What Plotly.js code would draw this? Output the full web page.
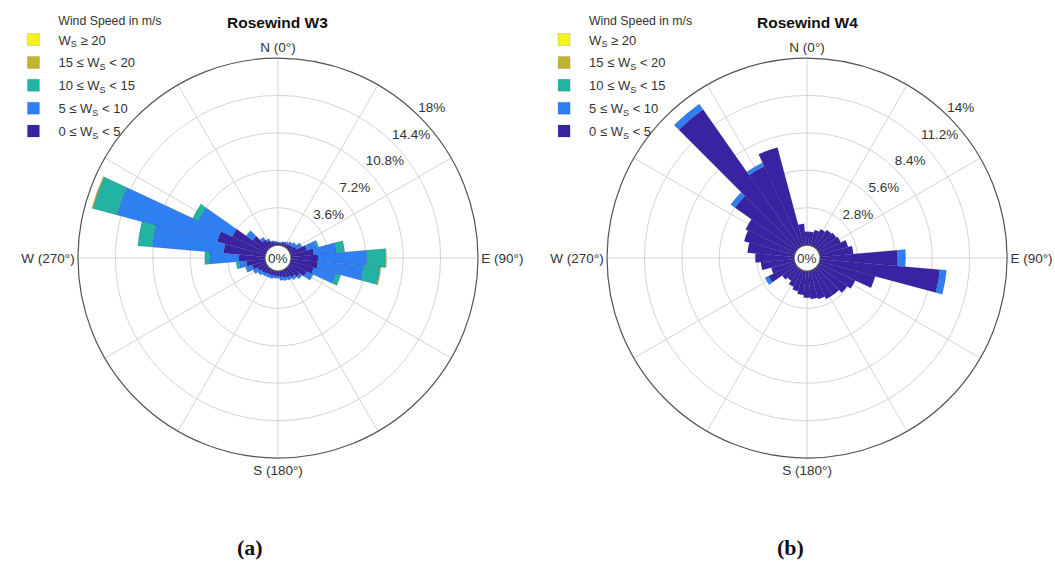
<!DOCTYPE html>
<html><head><meta charset="utf-8">
<script src="https://cdn.plot.ly/plotly-3.0.1.min.js"></script>
<style>html,body{margin:0;padding:0;background:#fff}#chart{width:1055px;height:569px}</style>
</head><body><div id="chart"></div>
<script>
// Direction sectors (degrees, compass)
const directions = [0,10,20,30,40,50,60,70,80,90,100,110,120,130,140,150,160,170,180,190,200,210,220,230,240,250,260,270,280,290,300,310,320,330,340,350];

// Speed classes (legend labels), from lowest to highest
const speedLabels = [
  '0 \u2264 W<sub>S</sub> &lt; 5',
  '5 \u2264 W<sub>S</sub> &lt; 10',
  '10 \u2264 W<sub>S</sub> &lt; 15',
  '15 \u2264 W<sub>S</sub> &lt; 20',
  'W<sub>S</sub> \u2265 20'
];
const speedColors = ['#3a23a2', '#2f7ff3', '#22b3a3', '#c2b42c', '#f6f31c'];

// Rosewind W3 frequencies (%) per direction, per speed class
const w3_0_5   = [0.2,0.2,0.3,0.3,0.4,0.5,0.7,1.6,2.2,2.6,2.6,2.3,1.8,1.3,1.0,0.8,0.7,0.6,0.5,0.5,0.5,0.5,0.6,0.7,0.9,1.3,1.8,2.5,4.0,4.8,3.6,1.7,0.9,0.6,0.4,0.3];
const w3_5_10  = [0.1,0.1,0.1,0.2,0.3,0.4,0.5,1.0,2.2,4.7,4.4,2.2,0.6,0.3,0.3,0.3,0.3,0.3,0.2,0.2,0.3,0.3,0.3,0.4,0.5,0.6,0.7,2.8,6.9,10.0,3.6,0.7,0.3,0.2,0.1,0.1];
const w3_10_15 = [0,0,0,0,0,0,0.1,0.2,0.8,1.8,1.6,0.5,0.1,0,0,0,0,0,0,0,0,0,0,0,0,0.1,0.3,0.5,1.4,2.4,0.6,0.1,0,0,0,0];
const w3_15_20 = [0,0,0,0,0,0,0,0,0,0.1,0.1,0,0,0,0,0,0,0,0,0,0,0,0,0,0,0,0,0,0,0.1,0,0,0,0,0,0];
const w3_20    = [0,0,0,0,0,0,0,0,0,0,0,0,0,0,0,0,0,0,0,0,0,0,0,0,0,0,0,0,0,0,0,0,0,0,0,0];

// Rosewind W4 frequencies (%) per direction, per speed class
const w4_0_5   = [1.0,1.0,1.2,1.4,1.6,1.7,1.8,2.2,2.5,5.8,9.0,4.3,3.0,2.7,2.4,2.4,2.2,2.1,2.0,1.8,1.6,1.4,1.1,1.3,2.2,1.8,2.5,2.9,3.5,3.9,4.1,5.6,12.6,6.6,7.6,1.6];
const w4_5_10  = [0,0,0,0,0,0,0,0,0,0.6,0.5,0,0,0,0,0,0,0,0,0,0,0,0,0,0.3,0,0,0,0,0,0,0.4,0.5,0.3,0,0];
const w4_10_15 = [0,0,0,0,0,0,0,0,0,0,0,0,0,0,0,0,0,0,0,0,0,0,0,0,0,0,0,0,0,0,0,0,0,0,0,0];
const w4_15_20 = [0,0,0,0,0,0,0,0,0,0,0,0,0,0,0,0,0,0,0,0,0,0,0,0,0,0,0,0,0,0,0,0,0,0,0,0];
const w4_20    = [0,0,0,0,0,0,0,0,0,0,0,0,0,0,0,0,0,0,0,0,0,0,0,0,0,0,0,0,0,0,0,0,0,0,0,0];

// Axis ticks
const w3Max = 18, w4Max = 14;
const w3RadialTicks = [3.6, 7.2, 10.8, 14.4, 18];
const w4RadialTicks = [2.8, 5.6, 8.4, 11.2, 14];
const angularTickVals = [0,30,60,90,120,150,180,210,240,270,300,330];
const angularTickText = ['N (0\u00b0)','','','E (90\u00b0)','','','S (180\u00b0)','','','W (270\u00b0)','',''];
const titles = ['Rosewind W3', 'Rosewind W4'];
const panelLabels = ['(a)', '(b)'];
const legendTitle = 'Wind Speed in m/s';

const FONT = 'Liberation Sans, Arial, Helvetica, sans-serif';
const dom1 = {x:[0.0739, 0.4531], y:[0.195, 0.898]};
const dom2 = {x:[0.5754, 0.9546], y:[0.195, 0.898]};

function roseTraces(series, subplot, legend) {
  return series.map((vals, i) => ({
    type: 'barpolar',
    r: vals,
    theta: directions,
    name: speedLabels[i],
    subplot: subplot,
    legend: legend,
    legendgroup: legend + '_' + i,
    legendrank: series.length - i,
    marker: {color: speedColors[i], line: {color: 'rgba(20,20,60,0.25)', width: 0.5}},
    hoverinfo: 'theta+r+name'
  }));
}

function radialLabelTrace(ticks, subplot) {
  return {
    type: 'scatterpolar', mode: 'text', subplot: subplot,
    r: ticks,
    theta: ticks.map(() => 44.5),
    text: ticks.map(t => t + '%'),
    textposition: 'top right',
    textfont: {family: FONT, size: 13.5, color: '#333'},
    cliponaxis: false, showlegend: false, hoverinfo: 'skip'
  };
}

const data = [].concat(
  roseTraces([w3_0_5, w3_5_10, w3_10_15, w3_15_20, w3_20], 'polar', 'legend'),
  roseTraces([w4_0_5, w4_5_10, w4_10_15, w4_15_20, w4_20], 'polar2', 'legend2'),
  [radialLabelTrace(w3RadialTicks, 'polar'), radialLabelTrace(w4RadialTicks, 'polar2')]
);

function polarCfg(dom, maxVal, ticks) {
  return {
    domain: dom, hole: 0.065, bgcolor: 'rgba(0,0,0,0)', barmode: 'stack', bargap: 0,
    radialaxis: {range: [0, maxVal], tickvals: ticks, showticklabels: false, ticks: '',
      showline: false, gridcolor: '#d4d4d4', gridwidth: 1},
    angularaxis: {rotation: 90, direction: 'clockwise', tickmode: 'array',
      tickvals: angularTickVals, ticktext: angularTickText, ticks: '',
      showline: true, linecolor: '#555', linewidth: 1.2, gridcolor: '#d4d4d4',
      tickfont: {family: FONT, size: 13.5, color: '#333'}}
  };
}

const indent = '\u00a0'.repeat(14);
function legendCfg(x) {
  return {
    x: x, y: 0.985, xanchor: 'left', yanchor: 'top', bgcolor: 'rgba(0,0,0,0)',
    traceorder: 'grouped', tracegroupgap: 3, itemwidth: 40,
    title: {text: indent + legendTitle, font: {family: FONT, size: 12.3, color: '#333'}},
    font: {family: FONT, size: 13, color: '#333'}
  };
}

const cx1 = (dom1.x[0] + dom1.x[1]) / 2, cx2 = (dom2.x[0] + dom2.x[1]) / 2;
const cy = (dom1.y[0] + dom1.y[1]) / 2;

function ann(text, x, y, font) {
  return {text: text, x: x, y: y, xref: 'paper', yref: 'paper', xanchor: 'center', yanchor: 'middle', showarrow: false, font: font};
}
const titleFont = {family: FONT, size: 15.5, color: '#111'};
const zeroFont = {family: FONT, size: 13.5, color: '#333'};
const panelFont = {family: 'Liberation Serif, Times New Roman, serif', size: 22, color: '#111'};

const layout = {
  width: 1055, height: 569,
  margin: {l: 0, r: 0, t: 0, b: 0},
  paper_bgcolor: '#fff',
  showlegend: true,
  polar: polarCfg(dom1, w3Max, w3RadialTicks),
  polar2: polarCfg(dom2, w4Max, w4RadialTicks),
  legend: legendCfg(0.008),
  legend2: legendCfg(0.511),
  annotations: [
    ann('<b>' + titles[0] + '</b>', cx1, 0.96, titleFont),
    ann('<b>' + titles[1] + '</b>', cx2, 0.96, titleFont),
    ann('0%', cx1, cy, zeroFont),
    ann('0%', cx2, cy, zeroFont),
    ann('<b>' + panelLabels[0] + '</b>', 250/1055, 0.037, panelFont),
    ann('<b>' + panelLabels[1] + '</b>', 790/1055, 0.037, panelFont)
  ]
};

Plotly.newPlot('chart', data, layout, {displayModeBar: false, responsive: false});
</script>
</body></html>
